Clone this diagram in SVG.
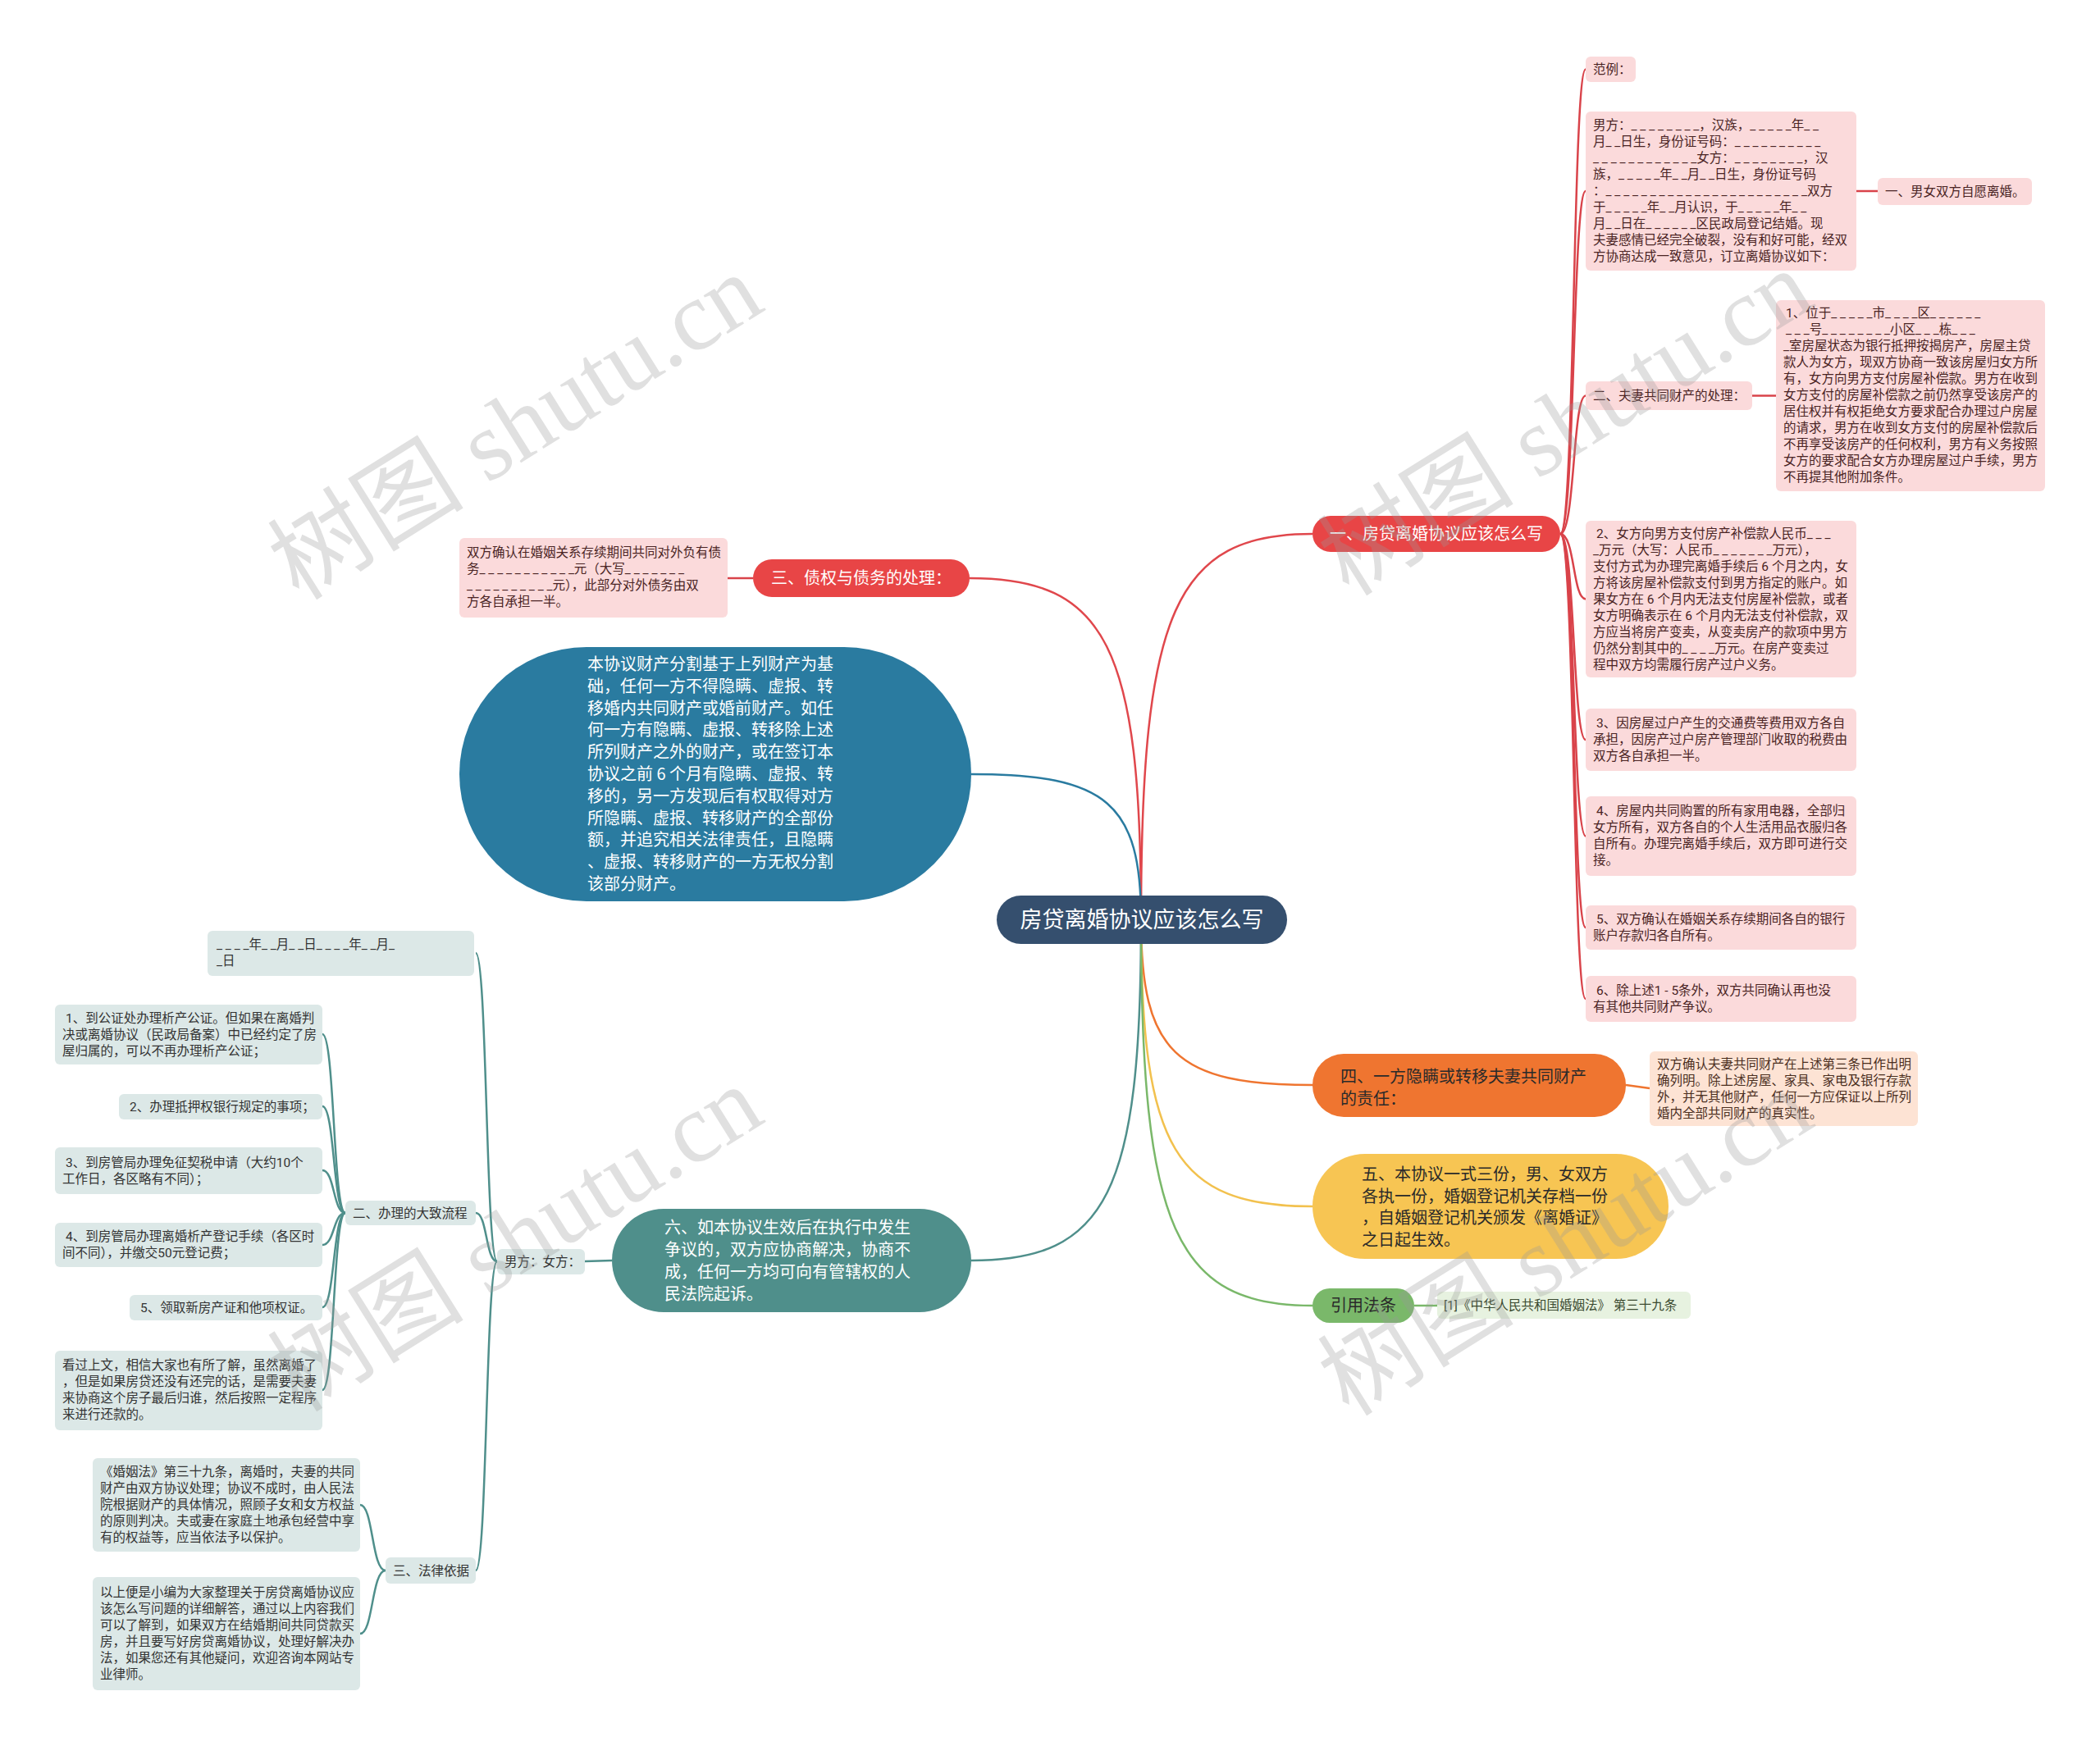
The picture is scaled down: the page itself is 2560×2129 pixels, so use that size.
<svg xmlns="http://www.w3.org/2000/svg" width="2560" height="2129" viewBox="0 0 2560 2129">
<style>
text{font-family:"Noto Sans CJK SC","Liberation Sans",sans-serif;}
.lf{font-size:15.5px;font-family:Roboto,"Noto Sans CJK SC",sans-serif;}
.rt{fill:#4a2424;}
.gt{fill:#333;}
.mn{font-size:20px;}
.w{fill:#fff;}
.d{fill:#2a2a2a;}
.pk{fill:#fbdadb;}
.gy{fill:#dce8e7;}
.c{fill:none;stroke-width:2.5;}
.wm{font-family:"Liberation Serif","Noto Sans CJK SC",serif;font-size:120px;fill:#9a9a9a;opacity:0.3;}
</style>
<rect width="2560" height="2129" fill="#fff"/>
<g id="connectors">
<path class="c" stroke="#e0474c" d="M1391 1122 C1391 745 1433 651 1600 651"/>
<path class="c" stroke="#e0474c" d="M1391 1122 C1391 788 1349 705 1182 705"/>
<path class="c" stroke="#2a7ba0" d="M1391 1122 C1391 980 1350 944 1184 944"/>
<path class="c" stroke="#4f8f8b" d="M1391 1122 C1391 1454 1350 1537 1184 1537"/>
<path class="c" stroke="#ef7530" d="M1391 1122 C1391 1283 1433 1323 1600 1323"/>
<path class="c" stroke="#f2c14e" d="M1391 1122 C1391 1401 1433 1471 1600 1471"/>
<path class="c" stroke="#7ab86a" d="M1391 1122 C1391 1498 1433 1592 1600 1592"/>
<g stroke="#d9434a">
<path class="c" d="M1902 651 C1920 651 1917 84.5 1933 84.5"/>
<path class="c" d="M1902 651 C1920 651 1917 233 1933 233"/>
<path class="c" d="M1902 651 C1920 651 1917 482.5 1933 482.5"/>
<path class="c" d="M1902 651 C1920 651 1917 730.5 1933 730.5"/>
<path class="c" d="M1902 651 C1920 651 1917 902 1933 902"/>
<path class="c" d="M1902 651 C1920 651 1917 1019.5 1933 1019.5"/>
<path class="c" d="M1902 651 C1920 651 1917 1131 1933 1131"/>
<path class="c" d="M1902 651 C1920 651 1917 1218 1933 1218"/>
<path class="c" d="M2263 233 L2289 233"/>
<path class="c" d="M2136 482.5 L2165 482.5"/>
<path class="c" d="M918 705 L887 705"/>
</g>
<path class="c" stroke="#ef7530" d="M1982 1323 L2011 1327"/>
<path class="c" stroke="#7ab86a" d="M1724 1592 L1752 1592"/>
<g stroke="#4f8f8b">
<path class="c" d="M746 1537 L713 1538"/>
<path class="c" d="M606 1538 C592 1538 594 1162 580 1162"/>
<path class="c" d="M606 1538 C592 1538 594 1479 580 1479"/>
<path class="c" d="M606 1538 C592 1538 594 1915 580 1915"/>
<path class="c" d="M421 1479 C406 1479 408 1261 393 1261"/>
<path class="c" d="M421 1479 C406 1479 408 1349 393 1349"/>
<path class="c" d="M421 1479 C406 1479 408 1427 393 1427"/>
<path class="c" d="M421 1479 C406 1479 408 1518 393 1518"/>
<path class="c" d="M421 1479 C406 1479 408 1594 393 1594"/>
<path class="c" d="M421 1479 C406 1479 408 1695 393 1695"/>
<path class="c" d="M470 1915 C453 1915 455 1835 439 1835"/>
<path class="c" d="M470 1915 C453 1915 455 1992 439 1992"/>
</g>
</g>
<g id="root">
<rect x="1215" y="1092" width="354" height="59" rx="29.5" fill="#354f6e"/>
<text x="1392" y="1131" font-size="27" text-anchor="middle" class="w">房贷离婚协议应该怎么写</text>
</g>
<g id="n1">
<rect x="1600" y="629" width="302" height="44" rx="22" fill="#e84546"/>
<text x="1751" y="658" class="mn w" text-anchor="middle">一、房贷离婚协议应该怎么写</text>
</g>
<g id="n1-fanli">
<rect x="1933" y="69" width="61" height="31" rx="6" class="pk"/>
<text x="1942" y="90" class="lf rt">范例：</text>
</g>
<g id="n1-nanfang">
<rect x="1933" y="136" width="330" height="194" rx="6" class="pk"/>
<text class="lf rt">
<tspan x="1942" y="158">男方：_ _ _ _ _ _ _ _，汉族，_ _ _ _ _年_ _</tspan>
<tspan x="1942" y="178">月_ _日生，身份证号码：_ _ _ _ _ _ _ _ _ _</tspan>
<tspan x="1942" y="198">_ _ _ _ _ _ _ _ _ _ _ _女方：_ _ _ _ _ _ _ _，汉</tspan>
<tspan x="1942" y="218">族，_ _ _ _ _年_ _月_ _日生，身份证号码</tspan>
<tspan x="1942" y="238">：_ _ _ _ _ _ _ _ _ _ _ _ _ _ _ _ _ _ _ _ _ _ _双方</tspan>
<tspan x="1942" y="258">于_ _ _ _ _年_ _月认识，于_ _ _ _ _年_ _</tspan>
<tspan x="1942" y="278">月_ _日在_ _ _ _ _ _区民政局登记结婚。现</tspan>
<tspan x="1942" y="298">夫妻感情已经完全破裂，没有和好可能，经双</tspan>
<tspan x="1942" y="318">方协商达成一致意见，订立离婚协议如下：</tspan>
</text>
</g>
<g id="n1-ziyuan">
<rect x="2289" y="217" width="188" height="33" rx="6" class="pk"/>
<text x="2298" y="239" class="lf rt">一、男女双方自愿离婚。</text>
</g>
<g id="n1-gongtong">
<rect x="1933" y="465" width="203" height="35" rx="6" class="pk"/>
<text x="1942" y="488" class="lf rt">二、夫妻共同财产的处理：</text>
</g>
<g id="n1-1">
<rect x="2165" y="366" width="328" height="233" rx="6" class="pk"/>
<text class="lf rt">
<tspan x="2177" y="387">1、位于_ _ _ _ _市_ _ _ _区_ _ _ _ _ _</tspan>
<tspan x="2177" y="407">_ _ _号_ _ _ _ _ _ _ _小区_ _ _栋_ _ _</tspan>
<tspan x="2174" y="427">_室房屋状态为银行抵押按揭房产，房屋主贷</tspan>
<tspan x="2174" y="447">款人为女方，现双方协商一致该房屋归女方所</tspan>
<tspan x="2174" y="467">有，女方向男方支付房屋补偿款。男方在收到</tspan>
<tspan x="2174" y="487">女方支付的房屋补偿款之前仍然享受该房产的</tspan>
<tspan x="2174" y="507">居住权并有权拒绝女方要求配合办理过户房屋</tspan>
<tspan x="2174" y="527">的请求，男方在收到女方支付的房屋补偿款后</tspan>
<tspan x="2174" y="547">不再享受该房产的任何权利，男方有义务按照</tspan>
<tspan x="2174" y="567">女方的要求配合女方办理房屋过户手续，男方</tspan>
<tspan x="2174" y="587">不再提其他附加条件。</tspan>
</text>
</g>
<g id="n1-2">
<rect x="1933" y="635" width="330" height="191" rx="6" class="pk"/>
<text class="lf rt">
<tspan x="1946" y="656">2、女方向男方支付房产补偿款人民币_ _ _</tspan>
<tspan x="1942" y="676">_万元（大写：人民币_ _ _ _ _ _ _万元），</tspan>
<tspan x="1942" y="696">支付方式为办理完离婚手续后 6 个月之内，女</tspan>
<tspan x="1942" y="716">方将该房屋补偿款支付到男方指定的账户。如</tspan>
<tspan x="1942" y="736">果女方在 6 个月内无法支付房屋补偿款，或者</tspan>
<tspan x="1942" y="756">女方明确表示在 6 个月内无法支付补偿款，双</tspan>
<tspan x="1942" y="776">方应当将房产变卖，从变卖房产的款项中男方</tspan>
<tspan x="1942" y="796">仍然分割其中的_ _ _ _万元。在房产变卖过</tspan>
<tspan x="1942" y="816">程中双方均需履行房产过户义务。</tspan>
</text>
</g>
<g id="n1-3">
<rect x="1933" y="864" width="330" height="76" rx="6" class="pk"/>
<text class="lf rt">
<tspan x="1946" y="887">3、因房屋过户产生的交通费等费用双方各自</tspan>
<tspan x="1942" y="907">承担，因房产过户房产管理部门收取的税费由</tspan>
<tspan x="1942" y="927">双方各自承担一半。</tspan>
</text>
</g>
<g id="n1-4">
<rect x="1933" y="971" width="330" height="97" rx="6" class="pk"/>
<text class="lf rt">
<tspan x="1946" y="994">4、房屋内共同购置的所有家用电器，全部归</tspan>
<tspan x="1942" y="1014">女方所有，双方各自的个人生活用品衣服归各</tspan>
<tspan x="1942" y="1034">自所有。办理完离婚手续后，双方即可进行交</tspan>
<tspan x="1942" y="1054">接。</tspan>
</text>
</g>
<g id="n1-5">
<rect x="1933" y="1104" width="330" height="54" rx="6" class="pk"/>
<text class="lf rt">
<tspan x="1946" y="1126">5、双方确认在婚姻关系存续期间各自的银行</tspan>
<tspan x="1942" y="1146">账户存款归各自所有。</tspan>
</text>
</g>
<g id="n1-6">
<rect x="1933" y="1190" width="330" height="56" rx="6" class="pk"/>
<text class="lf rt">
<tspan x="1946" y="1213">6、除上述1 - 5条外，双方共同确认再也没</tspan>
<tspan x="1942" y="1233">有其他共同财产争议。</tspan>
</text>
</g>
<g id="n3">
<rect x="918" y="682" width="264" height="46" rx="23" fill="#e84546"/>
<text x="1050" y="712" class="mn w" text-anchor="middle">三、债权与债务的处理：</text>
</g>
<g id="n3-leaf">
<rect x="560" y="656" width="327" height="97" rx="6" class="pk"/>
<text class="lf rt">
<tspan x="569" y="679">双方确认在婚姻关系存续期间共同对外负有债</tspan>
<tspan x="569" y="699">务_ _ _ _ _ _ _ _ _ _ _元（大写_ _ _ _ _ _ _</tspan>
<tspan x="569" y="719">_ _ _ _ _ _ _ _ _ _元），此部分对外债务由双</tspan>
<tspan x="569" y="739">方各自承担一半。</tspan>
</text>
</g>
<g id="n-blue">
<rect x="560" y="789" width="624" height="310" rx="155" fill="#2a7ba0"/>
<text class="mn w">
<tspan x="716" y="817">本协议财产分割基于上列财产为基</tspan>
<tspan x="716" y="844">础，任何一方不得隐瞒、虚报、转</tspan>
<tspan x="716" y="871">移婚内共同财产或婚前财产。如任</tspan>
<tspan x="716" y="897">何一方有隐瞒、虚报、转移除上述</tspan>
<tspan x="716" y="924">所列财产之外的财产，或在签订本</tspan>
<tspan x="716" y="951">协议之前 6 个月有隐瞒、虚报、转</tspan>
<tspan x="716" y="978">移的，另一方发现后有权取得对方</tspan>
<tspan x="716" y="1005">所隐瞒、虚报、转移财产的全部份</tspan>
<tspan x="716" y="1031">额，并追究相关法律责任，且隐瞒</tspan>
<tspan x="716" y="1058">、虚报、转移财产的一方无权分割</tspan>
<tspan x="716" y="1085">该部分财产。</tspan>
</text>
</g>
<g id="n4">
<rect x="1600" y="1285" width="382" height="77" rx="38" fill="#ef7530"/>
<text class="mn d">
<tspan x="1634" y="1320">四、一方隐瞒或转移夫妻共同财产</tspan>
<tspan x="1634" y="1347">的责任：</tspan>
</text>
</g>
<g id="n4-leaf">
<rect x="2011" y="1282" width="327" height="91" rx="6" fill="#fde3d4"/>
<text class="lf" fill="#4a2e1e">
<tspan x="2020" y="1303">双方确认夫妻共同财产在上述第三条已作出明</tspan>
<tspan x="2020" y="1323">确列明。除上述房屋、家具、家电及银行存款</tspan>
<tspan x="2020" y="1343">外，并无其他财产，任何一方应保证以上所列</tspan>
<tspan x="2020" y="1363">婚内全部共同财产的真实性。</tspan>
</text>
</g>
<g id="n5">
<rect x="1600" y="1407" width="434" height="128" rx="64" fill="#f7c553"/>
<text class="mn d">
<tspan x="1660" y="1439">五、本协议一式三份，男、女双方</tspan>
<tspan x="1660" y="1466">各执一份，婚姻登记机关存档一份</tspan>
<tspan x="1660" y="1492">，自婚姻登记机关颁发《离婚证》</tspan>
<tspan x="1660" y="1519">之日起生效。</tspan>
</text>
</g>
<g id="n-law">
<rect x="1600" y="1571" width="124" height="42" rx="21" fill="#7ab86a"/>
<text x="1662" y="1599" class="mn d" text-anchor="middle">引用法条</text>
</g>
<g id="n-law-leaf">
<rect x="1752" y="1575" width="309" height="33" rx="6" fill="#e7f2e0"/>
<text x="1760" y="1597" class="lf" fill="#3b4a30">[1]《中华人民共和国婚姻法》 第三十九条</text>
</g>
<g id="n6">
<rect x="746" y="1474" width="438" height="126" rx="63" fill="#4f8f8b"/>
<text class="mn w">
<tspan x="810" y="1504">六、如本协议生效后在执行中发生</tspan>
<tspan x="810" y="1531">争议的，双方应协商解决，协商不</tspan>
<tspan x="810" y="1558">成，任何一方均可向有管辖权的人</tspan>
<tspan x="810" y="1585">民法院起诉。</tspan>
</text>
</g>
<g id="n6-nf">
<rect x="606" y="1523" width="107" height="31" rx="6" class="gy"/>
<text x="615" y="1544" class="lf gt">男方：女方：</text>
</g>
<g id="n6-date">
<rect x="253" y="1135" width="325" height="55" rx="6" class="gy"/>
<text class="lf gt">
<tspan x="264" y="1157">_ _ _ _年_ _月_ _日_ _ _ _年_ _月_</tspan>
<tspan x="264" y="1177">_日</tspan>
</text>
</g>
<g id="n6-liucheng">
<rect x="421" y="1464" width="159" height="30" rx="6" class="gy"/>
<text x="430" y="1485" class="lf gt">二、办理的大致流程</text>
</g>
<g id="lc-1">
<rect x="67" y="1225" width="326" height="73" rx="6" class="gy"/>
<text class="lf gt">
<tspan x="80" y="1247">1、到公证处办理析产公证。但如果在离婚判</tspan>
<tspan x="76" y="1267">决或离婚协议（民政局备案）中已经约定了房</tspan>
<tspan x="76" y="1287">屋归属的，可以不再办理析产公证；</tspan>
</text>
</g>
<g id="lc-2">
<rect x="145" y="1334" width="248" height="31" rx="6" class="gy"/>
<text x="158" y="1355" class="lf gt">2、办理抵押权银行规定的事项；</text>
</g>
<g id="lc-3">
<rect x="67" y="1399" width="326" height="57" rx="6" class="gy"/>
<text class="lf gt">
<tspan x="80" y="1423">3、到房管局办理免征契税申请（大约10个</tspan>
<tspan x="76" y="1443">工作日，各区略有不同）；</tspan>
</text>
</g>
<g id="lc-4">
<rect x="67" y="1491" width="326" height="54" rx="6" class="gy"/>
<text class="lf gt">
<tspan x="80" y="1513">4、到房管局办理离婚析产登记手续（各区时</tspan>
<tspan x="76" y="1533">间不同），并缴交50元登记费；</tspan>
</text>
</g>
<g id="lc-5">
<rect x="158" y="1579" width="235" height="31" rx="6" class="gy"/>
<text x="171" y="1600" class="lf gt">5、领取新房产证和他项权证。</text>
</g>
<g id="lc-6">
<rect x="67" y="1647" width="326" height="97" rx="6" class="gy"/>
<text class="lf gt">
<tspan x="76" y="1670">看过上文，相信大家也有所了解，虽然离婚了</tspan>
<tspan x="76" y="1690">，但是如果房贷还没有还完的话，是需要夫妻</tspan>
<tspan x="76" y="1710">来协商这个房子最后归谁，然后按照一定程序</tspan>
<tspan x="76" y="1730">来进行还款的。</tspan>
</text>
</g>
<g id="n6-falv">
<rect x="470" y="1899" width="110" height="32" rx="6" class="gy"/>
<text x="479" y="1921" class="lf gt">三、法律依据</text>
</g>
<g id="fl-1">
<rect x="113" y="1778" width="326" height="114" rx="6" class="gy"/>
<text class="lf gt">
<tspan x="122" y="1800">《婚姻法》第三十九条，离婚时，夫妻的共同</tspan>
<tspan x="122" y="1820">财产由双方协议处理；协议不成时，由人民法</tspan>
<tspan x="122" y="1840">院根据财产的具体情况，照顾子女和女方权益</tspan>
<tspan x="122" y="1860">的原则判决。夫或妻在家庭土地承包经营中享</tspan>
<tspan x="122" y="1880">有的权益等，应当依法予以保护。</tspan>
</text>
</g>
<g id="fl-2">
<rect x="113" y="1923" width="326" height="138" rx="6" class="gy"/>
<text class="lf gt">
<tspan x="122" y="1947">以上便是小编为大家整理关于房贷离婚协议应</tspan>
<tspan x="122" y="1967">该怎么写问题的详细解答，通过以上内容我们</tspan>
<tspan x="122" y="1987">可以了解到，如果双方在结婚期间共同贷款买</tspan>
<tspan x="122" y="2007">房，并且要写好房贷离婚协议，处理好解决办</tspan>
<tspan x="122" y="2027">法，如果您还有其他疑问，欢迎咨询本网站专</tspan>
<tspan x="122" y="2047">业律师。</tspan>
</text>
</g>
<g id="watermarks">
<text class="wm" text-anchor="middle" transform="translate(650 555) rotate(-32)">树图 shutu.cn</text>
<text class="wm" text-anchor="middle" transform="translate(1930 550) rotate(-32)">树图 shutu.cn</text>
<text class="wm" text-anchor="middle" transform="translate(650 1545) rotate(-32)">树图 shutu.cn</text>
<text class="wm" text-anchor="middle" transform="translate(1930 1550) rotate(-32)">树图 shutu.cn</text>
</g>
</svg>
